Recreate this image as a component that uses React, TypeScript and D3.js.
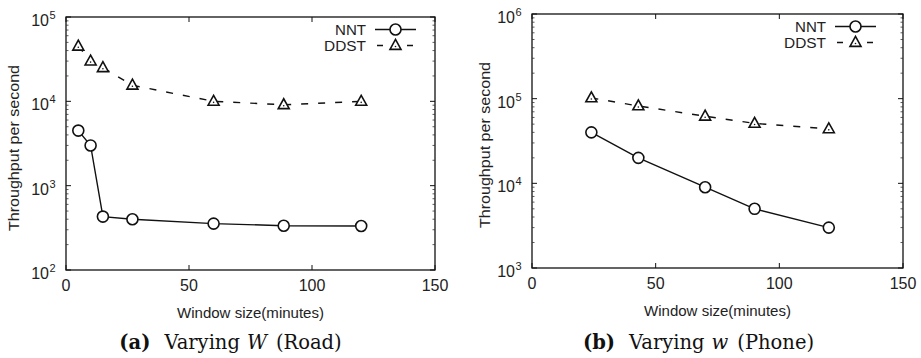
import React from "react";
import * as d3 from "d3";

const roadWindow = [5, 10, 15, 27, 60, 88.5, 120];
const roadNNT = [4500, 3000, 430, 400, 355, 335, 332];
const roadDDST = [45000, 30000, 25000, 15500, 10000, 9100, 10000];

const phoneWindow = [24, 43, 70, 90, 120];
const phoneNNT = [40000, 20000, 9000, 5000, 3000];
const phoneDDST = [102000, 82000, 62000, 51000, 44000];

const xTicks = [0, 50, 100, 150];
const seriesNames = ["NNT", "DDST"];
const xLabel = "Window size(minutes)";
const yLabel = "Throughput per second";

type Panel = {
  x0: number; x1: number; y0: number; y1: number;
  yMinExp: number; yMaxExp: number;
  xs: number[]; nnt: number[]; ddst: number[];
  yLabelX: number; yLabelY: number; legendY: number; legendTextX: number;
  capLetter: string; capVar: string; capSet: string; capX: number;
};

const panels: Panel[] = [
  { x0: 66, x1: 435, y0: 17, y1: 270, yMinExp: 2, yMaxExp: 5, xs: roadWindow, nnt: roadNNT, ddst: roadDDST,
    yLabelX: 19, yLabelY: 148, legendY: 30, legendTextX: 366, capLetter: "(a)", capVar: "W", capSet: "(Road)", capX: 230.5 },
  { x0: 532, x1: 903, y0: 14, y1: 268, yMinExp: 3, yMaxExp: 6, xs: phoneWindow, nnt: phoneNNT, ddst: phoneDDST,
    yLabelX: 490, yLabelY: 145, legendY: 27, legendTextX: 826, capLetter: "(b)", capVar: "w", capSet: "(Phone)", capX: 698.5 },
];

const sans = "'Liberation Sans', Arial, Helvetica, sans-serif";
const serif = "'DejaVu Serif', 'Liberation Serif', serif";

function Tri({ cx, cy }: { cx: number; cy: number }) {
  const s = 5.5;
  return (
    <g>
      <path d={`M${cx},${cy - s * 1.1}L${cx + s},${cy + s * 0.7}L${cx - s},${cy + s * 0.7}Z`} fill="white" stroke="#111" strokeWidth={1.6} />
      <circle cx={cx} cy={cy + 1} r={0.8} fill="#111" />
    </g>
  );
}

function Circ({ cx, cy }: { cx: number; cy: number }) {
  return <circle cx={cx} cy={cy} r={5.5} fill="white" stroke="#111" strokeWidth={1.6} />;
}

function PanelView({ p }: { p: Panel }) {
  const x = d3.scaleLinear().domain([0, 150]).range([p.x0, p.x1]);
  const y = d3.scaleLog().domain([Math.pow(10, p.yMinExp), Math.pow(10, p.yMaxExp)]).range([p.y1, p.y0]);
  const line = d3.line<[number, number]>().x((d) => x(d[0])).y((d) => y(d[1]));
  const nntPts = p.xs.map((v, i) => [v, p.nnt[i]] as [number, number]);
  const ddstPts = p.xs.map((v, i) => [v, p.ddst[i]] as [number, number]);
  const majors = d3.range(p.yMinExp, p.yMaxExp + 1);
  const minors: number[] = [];
  for (let e = p.yMinExp; e < p.yMaxExp; e++) for (let k = 2; k <= 9; k++) minors.push(k * Math.pow(10, e));
  const lx0 = p.legendTextX + 9, lx1 = lx0 + 41, lxc = (lx0 + lx1) / 2;
  const ly1 = p.legendY - 0.5;
  const ly2 = p.legendY + 15.5;
  return (
    <g>
      <rect x={p.x0} y={p.y0} width={p.x1 - p.x0} height={p.y1 - p.y0} fill="none" stroke="#111" strokeWidth={1.3} />
      {majors.map((e) => (
        <g key={"M" + e}>
          <line x1={p.x0} x2={p.x0 + 5} y1={y(Math.pow(10, e))} y2={y(Math.pow(10, e))} stroke="#111" />
          <line x1={p.x1} x2={p.x1 - 5} y1={y(Math.pow(10, e))} y2={y(Math.pow(10, e))} stroke="#111" />
          <text x={p.x0 - 17} y={y(Math.pow(10, e)) + 9} textAnchor="end" fontFamily={sans} fontSize={16} fill="#222">
            10
          </text>
          <text x={p.x0 - 16.5} y={y(Math.pow(10, e)) + 2} textAnchor="start" fontFamily={sans} fontSize={11} fill="#222">
            {e}
          </text>
        </g>
      ))}
      {minors.map((v, i) => (
        <g key={"m" + i}>
          <line x1={p.x0} x2={p.x0 + 2.5} y1={y(v)} y2={y(v)} stroke="#333" strokeWidth={0.8} />
          <line x1={p.x1} x2={p.x1 - 2.5} y1={y(v)} y2={y(v)} stroke="#333" strokeWidth={0.8} />
        </g>
      ))}
      {xTicks.map((t) => (
        <g key={"x" + t}>
          <line x1={x(t)} x2={x(t)} y1={p.y1} y2={p.y1 - 5} stroke="#111" />
          <line x1={x(t)} x2={x(t)} y1={p.y0} y2={p.y0 + 5} stroke="#111" />
          <text x={x(t)} y={p.y1 + 21} textAnchor="middle" fontFamily={sans} fontSize={16} fill="#222">
            {t}
          </text>
        </g>
      ))}
      <text x={(p.x0 + p.x1) / 2} y={p.y1 + 48} textAnchor="middle" fontFamily={sans} fontSize={14.5} fill="#222"
        textLength={147} lengthAdjust="spacingAndGlyphs">
        {xLabel}
      </text>
      <text transform={`translate(${p.yLabelX},${p.yLabelY}) rotate(-90)`} textAnchor="middle" fontFamily={sans} fontSize={14} fill="#222"
        textLength={166} lengthAdjust="spacingAndGlyphs">
        {yLabel}
      </text>
      <path d={line(ddstPts) || ""} fill="none" stroke="#111" strokeWidth={1.4} strokeDasharray="7,10" />
      <path d={line(nntPts) || ""} fill="none" stroke="#111" strokeWidth={1.4} />
      {ddstPts.map((d, i) => <Tri key={"t" + i} cx={x(d[0])} cy={y(d[1])} />)}
      {nntPts.map((d, i) => <Circ key={"c" + i} cx={x(d[0])} cy={y(d[1])} />)}
      <text x={p.legendTextX} y={ly1 + 5} textAnchor="end" fontFamily={sans} fontSize={14} fill="#222"
        textLength={31} lengthAdjust="spacingAndGlyphs">{seriesNames[0]}</text>
      <line x1={lx0} x2={lx1} y1={ly1} y2={ly1} stroke="#111" strokeWidth={1.4} />
      <Circ cx={lxc} cy={ly1} />
      <text x={p.legendTextX} y={ly2 + 5} textAnchor="end" fontFamily={sans} fontSize={14} fill="#222"
        textLength={42} lengthAdjust="spacingAndGlyphs">{seriesNames[1]}</text>
      <line x1={lx0} x2={lx1} y1={ly2} y2={ly2} stroke="#111" strokeWidth={1.4} strokeDasharray="6,9" strokeDashoffset={-2} />
      <Tri cx={lxc} cy={ly2} />
      <text x={p.capX} y={349} textAnchor="middle" fontFamily={serif} fontSize={19.5} fill="#111">
        <tspan fontWeight="bold">{p.capLetter}</tspan>
        <tspan dx={14}>Varying</tspan>
        <tspan dx={7} fontStyle="italic">{p.capVar}</tspan>
        <tspan dx={9}>{p.capSet}</tspan>
      </text>
    </g>
  );
}

export default function App() {
  return (
    <svg width={921} height={358} style={{ position: "absolute", left: 0, top: 0, background: "white" }}>
      <rect width={921} height={358} fill="white" />
      {panels.map((p, i) => <PanelView key={i} p={p} />)}
    </svg>
  );
}
